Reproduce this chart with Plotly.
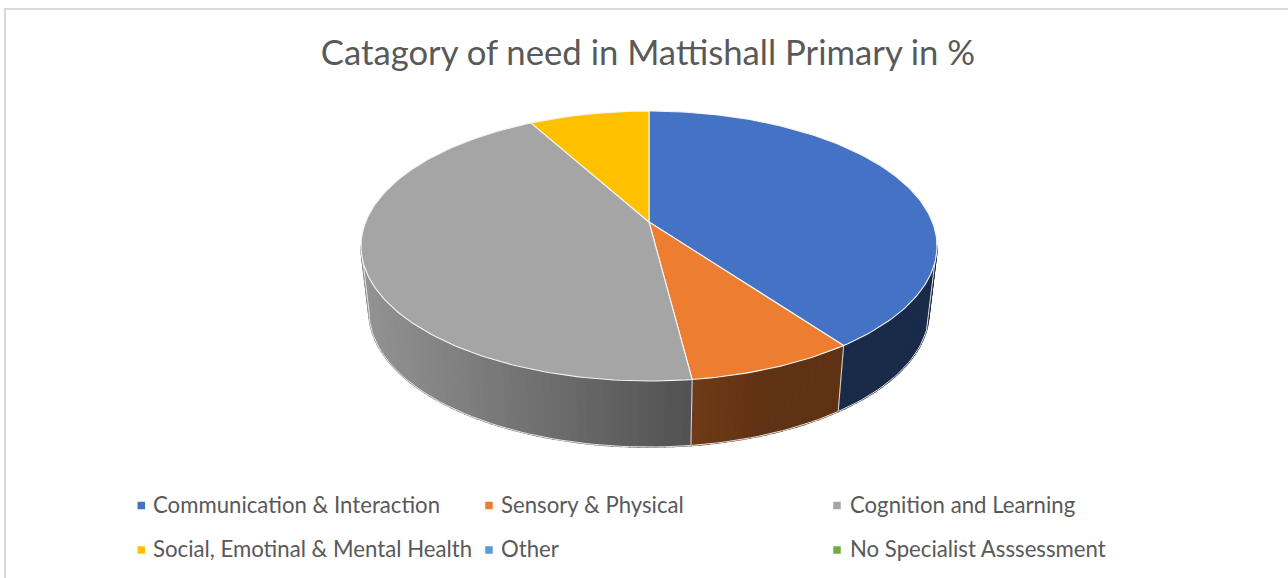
import math
import plotly.graph_objects as go

# ---- data ----
categories = ["Communication & Interaction", "Sensory & Physical", "Cognition and Learning",
              "Social, Emotinal & Mental Health", "Other", "No Specialist Asssessment"]
values = [40, 8, 44, 8, 0, 0]
colors = ["#4472C4", "#ED7D31", "#A5A5A5", "#FFC000", "#5B9BD5", "#70AD47"]
title_text = "Catagory of need in Mattishall Primary in %"

# ---- style / geometry ----
W, H = 1288, 578
CX, CY = 649, 222
A, B, K = 283.4, 130.7, 0.178
DEPTH, BOTTOM_X = 66, 0.972
FONT = "Lato"
TXT = "#595959"
# side shade (start, end) as fraction of the base colour, per slice
SHADE = {0: (0.38, 0.38), 1: (0.40, 0.47), 2: (0.49, 0.89), 3: (0.5, 0.5)}
LEG_X = [(141.3, 151), (489, 499), (837, 848)]
LEG_Y = [505.5, 550]


def top(theta):
    """Project a pie-angle (clockwise from 12 o'clock) to the page, with perspective."""
    u, v = math.sin(theta), math.cos(theta)
    d = 1 + K * v
    return CX + A * u / d, CY - B * v / d


def bottom(theta):
    x, y = top(theta)
    return CX + (x - CX) * BOTTOM_X, y + DEPTH


def arc(a, b, step=math.radians(1)):
    n = max(1, int(abs(b - a) / step))
    return [a + (b - a) * i / n for i in range(n + 1)]


def rgb(hexc, f):
    h = hexc.lstrip("#")
    r, g, b = (int(h[i:i + 2], 16) for i in (0, 2, 4))
    return f"rgb({round(r * f)},{round(g * f)},{round(b * f)})"


total = sum(values)
bounds = [0.0]
for val in values:
    bounds.append(bounds[-1] + val / total * 2 * math.pi)

fig = go.Figure()

# extruded sides, as narrow strips so the shading can vary (shade runs across the page)
VIS_A, VIS_B = math.radians(100), math.radians(260)
for i, col in enumerate(colors):
    a, b = max(bounds[i], VIS_A), min(bounds[i + 1], VIS_B)
    if b <= a:
        continue
    s0, s1 = SHADE[i]
    ts = arc(a, b, math.radians(1.5))
    xa, xb = top(a)[0], top(b)[0]
    for t0, t1 in zip(ts[:-1], ts[1:]):
        frac = (top((t0 + t1) / 2)[0] - xa) / (xb - xa) if xb != xa else 0
        if i == 1:
            frac = max(0.0, (frac - 0.5) * 2)
        c = rgb(col, s0 + (s1 - s0) * frac)
        pts = [top(t0), top(t1), bottom(t1), bottom(t0), top(t0)]
        fig.add_trace(go.Scatter(x=[p[0] for p in pts], y=[p[1] for p in pts], mode="lines",
                                 fill="toself", fillcolor=c, line=dict(color=c, width=1.6),
                                 hoverinfo="skip", showlegend=False))
    # pale edge along the foot of the side, up the outer silhouette and at the slice joint
    foot = [bottom(t) for t in ts]
    if a == VIS_A:
        foot.insert(0, top(a))
    if b == VIS_B:
        foot.append(top(b))
    fig.add_trace(go.Scatter(x=[p[0] for p in foot], y=[p[1] for p in foot], mode="lines",
                             line=dict(color="#E4E4E4", width=1),
                             hoverinfo="skip", showlegend=False))
    for t in (bounds[i], bounds[i + 1]):
        if VIS_A < t < VIS_B:
            p, q = top(t), bottom(t)
            fig.add_trace(go.Scatter(x=[p[0], q[0]], y=[p[1], q[1]], mode="lines",
                                     line=dict(color="#D8D8D8", width=1),
                                     hoverinfo="skip", showlegend=False))

# top faces
for i, col in enumerate(colors):
    if values[i] == 0:
        continue
    pts = [(CX, CY)] + [top(t) for t in arc(bounds[i], bounds[i + 1])] + [(CX, CY)]
    fig.add_trace(go.Scatter(x=[p[0] for p in pts], y=[p[1] for p in pts], mode="lines",
                             fill="toself", fillcolor=col, line=dict(color="#F4F4F4", width=1.1),
                             name=categories[i], hoverinfo="name", showlegend=False))

# legend: square key + label
annotations = []
for i, (name, col) in enumerate(zip(categories, colors)):
    mx, tx = LEG_X[i % 3]
    my = LEG_Y[i // 3]
    fig.add_trace(go.Scatter(x=[mx], y=[my], mode="markers", name=name,
                             marker=dict(symbol="square", size=7.5, color=col),
                             hoverinfo="name", showlegend=False))
    annotations.append(dict(x=tx, y=my - 1.5, text=name, showarrow=False, xanchor="left",
                            yanchor="middle", xref="x", yref="y",
                            font=dict(family=FONT, size=22.2, color=TXT)))

fig.update_layout(
    width=W, height=H, autosize=False,
    margin=dict(l=0, r=0, t=0, b=0),
    paper_bgcolor="white", plot_bgcolor="white",
    showlegend=False,
    title=dict(text=title_text, x=648 / W, xanchor="center", y=1 - 53 / H, yanchor="middle",
               font=dict(family=FONT, size=34.7, color=TXT)),
    xaxis=dict(range=[0, W], visible=False, fixedrange=True),
    yaxis=dict(range=[H, 0], visible=False, fixedrange=True),
    annotations=annotations,
    shapes=[dict(type="path", path=f"M 5 {H+5} L 5 9 L {W+5} 9", xref="x", yref="y",
                 line=dict(color="#D9D9D9", width=2))],
)

fig.write_html("out.html", config={"displayModeBar": False},
               post_script="document.body.style.margin='0';document.body.style.overflow='hidden';")
